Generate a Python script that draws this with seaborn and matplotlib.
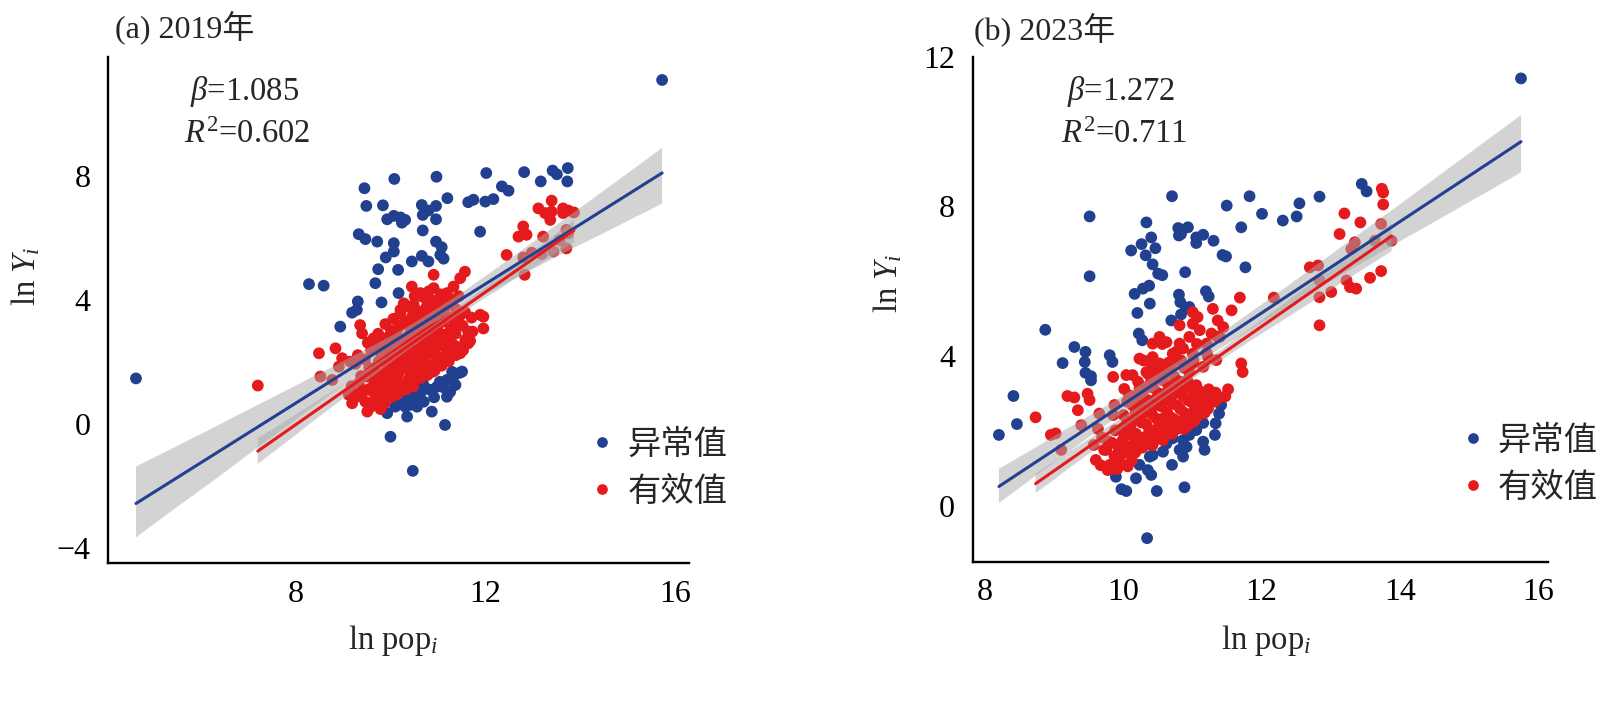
import matplotlib
matplotlib.use('Agg')
import numpy as np
import pandas as pd
import matplotlib.pyplot as plt
from matplotlib.lines import Line2D
import seaborn as sns

#%% data (ln pop, ln Y)
kinds = ['异常值', '有效值']
titles = ['(a) 2019年', '(b) 2023年']
betas = ['1.085', '1.272']
r2s = ['0.602', '0.711']

a_outlier = [
    (4.63, 1.47), (15.73, 11.09),
    (9.45, 7.60), (10.08, 7.90), (10.97, 7.97), (12.02, 8.09), (12.82, 8.12), (13.42, 8.17),
    (13.51, 8.05), (13.74, 8.25), (13.17, 7.82), (13.73, 7.82), (12.35, 7.66), (12.49, 7.52),
    (11.20, 7.28), (11.75, 7.23), (11.64, 7.15), (12.00, 7.17), (12.17, 7.25),
    (9.49, 7.03), (9.84, 7.05), (9.93, 6.60), (10.07, 6.71), (10.21, 6.66), (10.31, 6.58),
    (10.24, 6.49), (10.66, 7.06), (10.80, 6.88), (10.96, 7.03), (10.68, 6.74), (10.96, 6.60),
    (10.68, 6.24), (11.89, 6.20),
    (9.33, 6.12), (9.47, 5.96), (9.72, 5.88), (10.07, 5.83), (10.07, 5.56), (9.90, 5.37),
    (10.96, 5.88), (11.08, 5.70), (11.05, 5.45), (11.12, 5.33), (10.45, 5.24), (10.66, 5.42),
    (10.80, 5.24), (9.74, 4.99), (10.16, 4.97), (9.68, 4.54), (8.28, 4.51), (8.59, 4.46),
    (10.17, 4.22), (9.31, 3.95), (9.81, 3.92), (9.19, 3.59), (9.29, 3.68), (8.94, 3.14),
    (11.51, 1.69), (11.33, 1.53), (11.19, 1.42), (11.37, 1.26), (11.26, 1.04), (11.19, 0.88),
    (10.98, 1.20), (10.84, 1.10), (10.63, 0.99), (10.49, 0.88), (10.35, 0.77), (10.21, 0.67),
    (10.10, 0.56), (10.31, 0.56), (10.56, 0.56), (10.70, 0.72), (10.87, 0.40), (9.93, 0.35),
    (10.35, 0.24), (11.15, -0.03), (10.00, -0.41), (10.47, -1.51),
    (10.75, 1.15), (10.92, 0.86), (11.04, 1.36), (10.58, 0.79), (10.42, 0.62), (11.30, 1.68),
    (11.46, 1.65), (10.68, 1.32), (11.12, 1.18),
]

a_valid = [
    (7.20, 1.24),
    (8.49, 2.28), (8.84, 2.44), (8.52, 1.53), (8.77, 1.42), (8.91, 1.85), (8.98, 2.12),
    (9.15, 2.01), (9.36, 3.19), (9.40, 2.92), (9.64, 2.76),
    (11.96, 3.46), (11.96, 3.08), (11.64, 2.98), (11.64, 2.60), (11.47, 2.28),
    (9.51, 0.40), (9.19, 0.67), (9.12, 0.94), (9.29, 0.88), (9.68, 0.83), (9.85, 0.77),
    (13.40, 7.20), (13.12, 6.95), (13.26, 6.80), (13.40, 6.85), (13.37, 6.58), (13.64, 6.95),
    (13.75, 6.88), (13.87, 6.82), (13.64, 6.80), (12.80, 6.37), (12.70, 6.04), (12.87, 6.10),
    (13.22, 6.04), (12.45, 5.45), (12.80, 5.37), (12.98, 5.52), (13.19, 5.48), (13.44, 5.56),
    (13.71, 5.66), (13.75, 6.15), (13.71, 6.26), (12.83, 4.81), (13.57, 5.93),
    (10.91, 4.81), (11.57, 4.91), (11.47, 4.70), (11.33, 4.43), (10.45, 4.43), (10.63, 4.22),
    (10.91, 4.38), (11.19, 4.22), (10.28, 3.89), (10.49, 3.84), (10.77, 4.00), (11.05, 3.89),
    (11.33, 4.00), (10.21, 3.57), (10.63, 3.57), (10.98, 3.62), (11.89, 3.52),
    (9.28, 0.95), (9.33, 1.32), (9.26, 1.94), (9.31, 2.22),
    (9.47, 0.72), (9.53, 1.12), (9.49, 1.53), (9.55, 1.81), (9.46, 2.08), (9.52, 2.62),
    (9.68, 0.62), (9.73, 0.95), (9.66, 1.34), (9.71, 1.63), (9.75, 2.01), (9.69, 2.48), (9.74, 2.91),
    (9.88, 0.68), (9.92, 1.01), (9.86, 1.39), (9.91, 1.72), (9.94, 2.07), (9.87, 2.43),
    (9.93, 2.78), (9.89, 3.22),
    (10.03, 0.88), (10.07, 1.23), (10.02, 1.54), (10.08, 1.89), (10.04, 2.21), (10.09, 2.58),
    (10.01, 3.01), (10.06, 3.39),
    (10.18, 1.02), (10.23, 1.28), (10.17, 1.62), (10.22, 1.98), (10.19, 2.37), (10.24, 2.72),
    (10.16, 3.09), (10.21, 3.68),
    (10.33, 1.12), (10.38, 1.43), (10.32, 1.79), (10.37, 2.12), (10.34, 2.48), (10.39, 2.87),
    (10.31, 3.31), (10.36, 3.79),
    (10.48, 1.21), (10.53, 1.58), (10.47, 1.92), (10.52, 2.28), (10.49, 2.63), (10.54, 2.98),
    (10.46, 3.48), (10.51, 4.12),
    (10.63, 1.48), (10.68, 1.72), (10.62, 2.07), (10.67, 2.43), (10.64, 2.79), (10.69, 3.18),
    (10.61, 3.62), (10.66, 4.11),
    (10.78, 1.58), (10.83, 1.88), (10.77, 2.23), (10.82, 2.57), (10.79, 2.92), (10.84, 3.39),
    (10.76, 3.78), (10.81, 4.28),
    (10.93, 1.72), (10.98, 2.01), (10.92, 2.37), (10.97, 2.72), (10.94, 3.08), (10.99, 3.51),
    (10.91, 3.97),
    (11.08, 1.88), (11.13, 2.18), (11.07, 2.53), (11.12, 2.88), (11.09, 3.29), (11.14, 3.72),
    (11.06, 4.18),
    (11.23, 2.02), (11.28, 2.32), (11.22, 2.68), (11.27, 3.07), (11.24, 3.43), (11.29, 3.88),
    (11.38, 2.22), (11.43, 2.48), (11.37, 2.91), (11.42, 3.28), (11.39, 3.69), (11.44, 4.12),
    (11.53, 2.38), (11.58, 2.72), (11.52, 3.17), (11.57, 3.61),
    (11.68, 2.68), (11.73, 2.98), (11.71, 3.43),
    (10.11, 2.05), (10.27, 2.55), (10.42, 1.65), (10.57, 2.45), (10.72, 2.02), (10.87, 2.75),
    (10.41, 3.15), (10.58, 3.32), (10.74, 2.65), (10.29, 2.22), (10.95, 2.22), (11.02, 2.95),
    (10.14, 2.85), (10.88, 1.68), (11.18, 2.42), (9.97, 1.88), (9.81, 2.21), (9.63, 1.78),
    (11.33, 2.55), (11.48, 3.52),
    (9.58, 0.55), (9.79, 0.48), (9.41, 1.02), (9.84, 1.12), (10.12, 0.95), (9.62, 1.05),
    (9.38, 1.55), (9.18, 1.22),
    (10.13, 1.52), (10.27, 1.85), (10.43, 2.18), (10.58, 1.88), (10.73, 2.32), (10.88, 2.48),
    (11.03, 2.62), (11.18, 2.88), (10.21, 2.18), (10.36, 2.65), (10.52, 2.95), (10.68, 2.95),
    (10.83, 3.12), (10.98, 3.22), (11.13, 3.48), (10.27, 3.22), (10.44, 3.32), (10.59, 3.05),
    (10.74, 3.55), (10.89, 3.72), (11.04, 4.02), (11.19, 3.98), (9.98, 1.32), (9.83, 1.62),
    (9.64, 1.22), (9.59, 2.38), (9.79, 2.62), (10.02, 2.42), (10.43, 2.78), (10.92, 1.92),
]

b_outlier = [
    (8.21, 1.89), (8.47, 2.18), (8.42, 2.93), (15.75, 11.42),
    (10.71, 8.27), (11.83, 8.27), (11.50, 8.02), (12.01, 7.80), (12.31, 7.62), (12.51, 7.73),
    (12.55, 8.08), (12.84, 8.26), (13.45, 8.60), (13.52, 8.40), (9.52, 7.73), (9.52, 6.13),
    (10.34, 7.57), (10.41, 7.17), (10.12, 6.82), (10.27, 6.99), (10.47, 6.88), (10.33, 6.69),
    (10.43, 6.45), (10.51, 6.20), (10.57, 6.16), (10.80, 7.42), (10.94, 7.44), (10.84, 7.26),
    (10.81, 7.22), (11.06, 7.17), (11.16, 7.24), (11.06, 7.02), (11.31, 7.08), (11.71, 7.44),
    (11.44, 6.70), (11.49, 6.66), (11.77, 6.37), (10.90, 6.24), (10.17, 5.66), (10.29, 5.80),
    (10.38, 5.88), (10.39, 5.40), (10.21, 5.15), (10.81, 5.64), (10.83, 5.44), (10.91, 5.26),
    (10.84, 5.11), (10.70, 4.95), (10.96, 5.31), (11.20, 5.73), (11.24, 5.59), (8.88, 4.70),
    (10.23, 4.60), (10.28, 4.42), (9.30, 4.24), (9.46, 4.11), (9.13, 3.81), (9.45, 3.84),
    (9.81, 4.02), (9.85, 3.84), (9.46, 3.55), (9.54, 3.46), (9.54, 3.35),
    (11.42, 2.69), (11.39, 2.46), (11.34, 2.20), (11.33, 1.89), (11.16, 2.21), (11.06, 2.02),
    (10.96, 1.89), (10.87, 1.75), (10.72, 1.80), (10.63, 1.66), (10.82, 1.49), (10.92, 1.57),
    (11.16, 1.71), (11.18, 1.49), (10.87, 1.31), (10.58, 1.44), (10.43, 1.35), (10.39, 1.31),
    (10.24, 1.09), (10.36, 0.95), (10.41, 0.82), (10.19, 0.73), (9.90, 0.77), (9.98, 0.44),
    (10.05, 0.39), (10.49, 0.39), (10.71, 1.09), (10.89, 0.49), (10.35, -0.87),
]

b_valid = [
    (8.74, 2.36), (8.96, 1.89), (9.03, 1.93), (9.20, 2.93), (9.30, 2.89), (9.49, 2.99),
    (9.52, 2.82), (9.35, 2.55), (9.40, 2.15), (9.66, 2.46), (9.88, 2.69), (9.61, 1.22),
    (9.81, 1.09), (9.76, 1.49), (9.95, 1.17), (9.11, 1.49),
    (13.20, 7.81), (13.43, 7.57), (13.76, 8.37), (13.76, 8.05), (13.73, 7.53), (13.13, 7.26),
    (13.35, 7.04), (13.30, 6.86), (13.64, 7.08), (13.88, 7.08), (12.70, 6.37), (12.82, 6.42),
    (12.84, 6.02), (13.23, 6.02), (13.28, 5.84), (13.37, 5.80), (13.57, 6.09), (13.73, 6.27),
    (13.01, 5.71), (12.84, 5.57), (12.18, 5.56), (12.84, 4.82), (11.69, 5.56), (13.74, 8.47),
    (11.30, 5.26), (11.57, 5.22), (11.01, 5.17), (11.08, 5.04), (11.01, 4.86), (10.82, 4.82),
    (11.11, 4.69), (11.37, 4.95), (11.45, 4.77), (11.28, 4.60), (11.40, 4.51), (10.53, 4.51),
    (10.63, 4.37), (10.43, 4.33), (10.82, 4.33), (10.96, 4.51), (10.72, 4.06), (10.87, 4.20),
    (11.01, 4.06), (11.21, 4.33), (11.23, 3.97), (11.35, 3.89), (10.24, 3.93), (10.43, 3.97),
    (10.53, 3.80), (10.67, 3.71), (10.34, 3.57), (10.14, 3.49), (9.86, 3.44), (10.05, 3.49),
    (11.01, 3.80), (11.16, 3.71), (11.71, 3.80), (11.73, 3.57),
    (9.68, 1.08), (9.73, 1.49), (9.70, 1.82),
    (9.83, 0.98), (9.88, 1.32), (9.84, 1.68), (9.89, 2.01), (9.86, 2.42),
    (9.98, 1.12), (10.03, 1.41), (9.99, 1.73), (10.04, 2.08), (10.01, 2.42), (10.06, 2.78),
    (10.02, 3.12),
    (10.13, 1.21), (10.18, 1.42), (10.14, 1.61), (10.19, 1.92), (10.16, 2.28), (10.21, 2.61),
    (10.17, 2.92), (10.22, 3.31),
    (10.28, 1.55), (10.33, 1.62), (10.29, 1.82), (10.34, 2.18), (10.31, 2.49), (10.36, 2.82),
    (10.32, 3.13), (10.37, 3.51), (10.30, 3.88),
    (10.43, 1.62), (10.48, 1.78), (10.44, 2.01), (10.49, 2.32), (10.46, 2.68), (10.51, 3.01),
    (10.47, 3.38), (10.42, 3.72),
    (10.58, 1.75), (10.63, 1.92), (10.59, 2.13), (10.64, 2.49), (10.61, 2.81), (10.66, 3.19),
    (10.62, 3.58), (10.57, 4.32),
    (10.73, 1.98), (10.78, 2.05), (10.74, 2.31), (10.79, 2.68), (10.76, 3.01), (10.81, 3.32),
    (10.72, 3.82), (10.77, 4.11),
    (10.88, 2.05), (10.93, 2.12), (10.89, 2.48), (10.94, 2.82), (10.91, 3.18), (10.96, 3.58),
    (11.03, 2.25), (11.08, 2.38), (11.04, 2.61), (11.09, 2.92), (11.06, 3.22), (11.02, 3.88),
    (11.07, 4.32),
    (11.18, 2.48), (11.23, 2.59), (11.19, 2.82), (11.24, 3.11), (11.21, 4.08),
    (11.33, 2.78), (11.38, 2.88), (11.34, 3.02), (11.36, 4.52),
    (11.48, 2.92), (11.52, 3.11),
    (10.11, 2.12), (10.26, 2.68), (10.41, 1.85), (10.56, 2.65), (10.71, 2.15), (10.86, 2.95),
    (10.39, 3.25), (10.53, 3.48), (10.69, 2.85), (10.24, 2.35), (10.97, 2.42), (11.12, 3.05),
    (10.09, 2.95), (10.84, 2.08),
    (9.78, 0.95), (9.92, 0.98), (10.07, 1.05), (9.58, 1.62), (9.64, 2.05),
    (10.08, 1.58), (10.23, 1.78), (10.38, 2.02), (10.53, 2.18), (10.68, 2.38), (10.83, 2.58),
    (10.98, 2.78), (11.13, 2.72), (10.12, 1.88), (10.27, 2.22), (10.42, 2.45), (10.57, 2.32),
    (10.72, 2.72), (10.87, 2.28), (11.02, 3.02), (10.18, 2.45), (10.33, 2.65), (10.48, 2.85),
    (10.63, 3.02), (10.78, 3.18), (10.93, 3.35), (10.28, 2.95), (10.44, 3.15), (10.58, 3.35),
    (10.74, 3.45), (10.89, 3.68), (10.02, 1.92), (9.94, 1.52), (9.79, 1.72), (10.14, 2.68),
    (10.38, 1.68), (10.55, 1.95), (10.71, 1.92), (11.11, 2.48), (11.27, 2.92), (10.06, 2.22),
    (10.24, 3.12), (10.49, 3.58), (10.66, 3.82), (10.84, 3.88),
]

a_xticks = [8, 12, 16]
a_yticks = [-4, 0, 4, 8]
b_xticks = [8, 10, 12, 14, 16]
b_yticks = [0, 4, 8, 12]

#%% style
sns.set_style('white')
plt.rcParams['font.family'] = ['Liberation Serif', 'Noto Sans CJK SC']
plt.rcParams['mathtext.fontset'] = 'custom'
plt.rcParams['mathtext.rm'] = 'Liberation Serif'
plt.rcParams['mathtext.it'] = 'Liberation Serif:italic'
plt.rcParams['axes.unicode_minus'] = True

blue = '#21408f'
red = '#e41a1c'


def make_df(outl, valid):
    d1 = pd.DataFrame(outl, columns=['lnpop', 'lnY'])
    d1['kind'] = kinds[0]
    d2 = pd.DataFrame(valid, columns=['lnpop', 'lnY'])
    d2['kind'] = kinds[1]
    return pd.concat([d1, d2], ignore_index=True)


def draw_panel(ax, df):
    sns.scatterplot(data=df, x='lnpop', y='lnY', hue='kind', hue_order=kinds,
                    palette=[blue, red], s=72, linewidth=0, ax=ax, legend=False)
    # fit on all points (blue) and on valid points only (red)
    for sub, col in [(df, blue), (df[df.kind == kinds[1]], red)]:
        n0 = len(ax.collections)
        sns.regplot(data=sub, x='lnpop', y='lnY', scatter=False, ci=95, color=col,
                    line_kws=dict(lw=2.2), ax=ax, seed=1)
        for c in ax.collections[n0:]:
            c.set_facecolor('#a8a8a8')
            c.set_edgecolor('none')
            c.set_alpha(0.5)
    ax.set_xlabel('')
    ax.set_ylabel('')
    sns.despine(ax=ax)
    for s in ['left', 'bottom']:
        ax.spines[s].set_color('black')
        ax.spines[s].set_linewidth(1.7)
    ax.tick_params(direction='in', length=7, width=1.5, labelsize=23, color='black',
                   labelcolor='black')
    ax.tick_params(axis='y', pad=13)
    ax.tick_params(axis='x', pad=12)


fig = plt.figure(figsize=(16, 7.08), dpi=100)
ax_a = fig.add_axes([0.0678, 0.2048, 0.3629, 0.7151])
ax_b = fig.add_axes([0.6083, 0.2066, 0.3592, 0.7133])

draw_panel(ax_a, make_df(a_outlier, a_valid))
draw_panel(ax_b, make_df(b_outlier, b_valid))

ax_a.set_xlim(4.05, 16.3)
ax_a.set_ylim(-4.48, 11.84)
ax_a.set_xticks(a_xticks)
ax_a.set_yticks(a_yticks)
ax_b.set_xlim(7.84, 16.14)
ax_b.set_ylim(-1.5, 12.0)
ax_b.set_xticks(b_xticks)
ax_b.set_yticks(b_yticks)

# titles, stats, axis labels
fig.text(0.0719, 0.9463, titles[0], fontsize=23, va='baseline')
fig.text(0.6088, 0.9435, titles[1], fontsize=23, va='baseline')
for x0, i in [(0.1188, 0), (0.6669, 1)]:
    fig.text(x0, 0.8588, r'$\beta$=' + betas[i], fontsize=23.5, va='baseline')
    fig.text(x0 - 0.0035, 0.798, r'$R^2$=' + r2s[i], fontsize=23.5, va='baseline')

fig.text(26 / 1600, 1 - 276 / 708, r'ln $Y_i$', rotation=90, ha='center', va='center', fontsize=23.5)
fig.text(888 / 1600, 1 - 283 / 708, r'ln $Y_i$', rotation=90, ha='center', va='center', fontsize=23.5)
fig.text(393 / 1600, 1 - 640 / 708, r'ln pop$_i$', ha='center', va='center', fontsize=23.5)
fig.text(1266 / 1600, 1 - 640 / 708, r'ln pop$_i$', ha='center', va='center', fontsize=23.5)

handles = [Line2D([], [], marker='o', ls='', color=c, markersize=7.7, markeredgewidth=0)
           for c in [blue, red]]
for ax, (lx, ly) in [(ax_a, (585.7, 468.9)), (ax_b, (1456, 464.8))]:
    ax.legend(handles, kinds, loc='center left', bbox_to_anchor=(lx / 1600, 1 - ly / 708),
              bbox_transform=fig.transFigure, frameon=False, fontsize=24, handlelength=1.0,
              handletextpad=0.25, labelspacing=0.48, borderpad=0, borderaxespad=0)

fig.savefig('out.png', dpi=100)
